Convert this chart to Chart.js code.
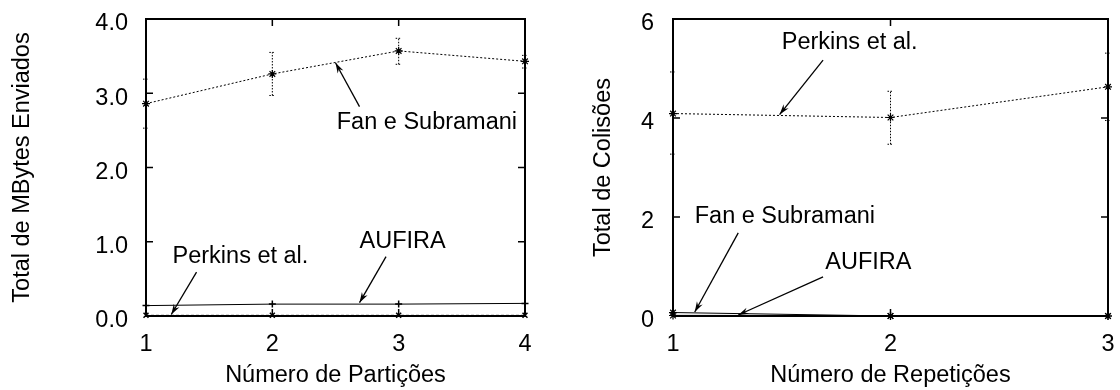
<!DOCTYPE html>
<html>
<head>
<meta charset="utf-8">
<script src="https://cdn.jsdelivr.net/npm/chart.js@4"></script>
<style>
  body { margin: 0; background: #fff; }
  #wrap { position: relative; width: 1120px; height: 390px; }
  canvas { position: absolute; top: 0; }
  #c1 { left: 0; }
  #c2 { left: 560px; }
</style>
</head>
<body>
<div id="wrap">
  <canvas id="c1" width="560" height="390"></canvas>
  <canvas id="c2" width="560" height="390"></canvas>
</div>
<script>
// ===== Gráfico 1: MBytes enviados x partições =====
const particoes = [1, 2, 3, 4];
const fanMB = [2.86, 3.26, 3.57, 3.43];
const fanMBMin = [2.53, 2.97, 3.39, 3.34];
const fanMBMax = [3.19, 3.55, 3.74, 3.51];
const aufiraMB = [0.14, 0.16, 0.16, 0.17];
const perkinsMB = [0.01, 0.01, 0.01, 0.01];
const yTicksMB = ['0.0', '1.0', '2.0', '3.0', '4.0'];

// ===== Gráfico 2: colisões x repetições =====
const repeticoes = [1, 2, 3];
const perkinsCol = [4.09, 4.01, 4.63];
const perkinsColMin = [3.27, 3.47, 3.95];
const perkinsColMax = [4.93, 4.54, 5.31];
const fanCol = [0.07, 0, 0];
const aufiraCol = [0.01, 0, 0];
const yTicksCol = ['0', '2', '4', '6'];

const FONTE = { family: '"Liberation Sans", Arial, sans-serif', size: 23.5 };

const pontos = (xs, ys) => xs.map((x, i) => ({ x: x, y: ys[i] }));

// moldura, marcas internas, barras de erro e rótulos com setas (estilo gnuplot)
const gnuplot = {
  id: 'gnuplot',
  afterDatasetsDraw(chart) {
    const { ctx, scales: { x, y } } = chart;
    ctx.save();
    ctx.strokeStyle = '#000';
    ctx.lineWidth = 1;
    ctx.setLineDash([1.5, 1.5]);
    chart.data.datasets.forEach(ds => {
      if (!ds.erro) return;
      ds.data.forEach((p, i) => {
        const px = x.getPixelForValue(p.x);
        const y0 = y.getPixelForValue(ds.erro.min[i]);
        const y1 = y.getPixelForValue(ds.erro.max[i]);
        ctx.beginPath();
        ctx.moveTo(px, y0); ctx.lineTo(px, y1);
        ctx.moveTo(px - 3, y0); ctx.lineTo(px + 3, y0);
        ctx.moveTo(px - 3, y1); ctx.lineTo(px + 3, y1);
        ctx.stroke();
      });
    });
    ctx.restore();
  },
  afterDraw(chart, args, opts) {
    const { ctx, chartArea: a, scales: { x, y } } = chart;
    ctx.save();
    ctx.strokeStyle = '#000';
    ctx.lineWidth = 1.5;
    ctx.beginPath();
    x.ticks.forEach(t => {
      const px = x.getPixelForValue(t.value);
      ctx.moveTo(px, a.bottom); ctx.lineTo(px, a.bottom - 7);
      ctx.moveTo(px, a.top); ctx.lineTo(px, a.top + 7);
    });
    y.ticks.forEach(t => {
      const py = y.getPixelForValue(t.value);
      ctx.moveTo(a.left, py); ctx.lineTo(a.left + 7, py);
      ctx.moveTo(a.right, py); ctx.lineTo(a.right - 7, py);
    });
    ctx.stroke();
    ctx.lineWidth = 2;
    ctx.strokeRect(a.left, a.top, a.width, a.height);

    // rótulos
    ctx.font = FONTE.size + 'px ' + FONTE.family;
    ctx.fillStyle = '#000';
    ctx.textAlign = 'left';
    ctx.textBaseline = 'middle';
    ctx.lineWidth = 1.3;
    (opts.rotulos || []).forEach(r => {
      ctx.fillText(r.texto, x.getPixelForValue(r.x), y.getPixelForValue(r.y));
      const x0 = x.getPixelForValue(r.de[0]), y0 = y.getPixelForValue(r.de[1]);
      const x1 = x.getPixelForValue(r.para[0]), y1 = y.getPixelForValue(r.para[1]);
      const ang = Math.atan2(y1 - y0, x1 - x0);
      ctx.beginPath();
      ctx.moveTo(x0, y0); ctx.lineTo(x1, y1);
      ctx.stroke();
      ctx.beginPath();
      ctx.moveTo(x1, y1);
      ctx.lineTo(x1 - 11 * Math.cos(ang - 0.3), y1 - 11 * Math.sin(ang - 0.3));
      ctx.lineTo(x1 - 7 * Math.cos(ang), y1 - 7 * Math.sin(ang));
      ctx.lineTo(x1 - 11 * Math.cos(ang + 0.3), y1 - 11 * Math.sin(ang + 0.3));
      ctx.closePath();
      ctx.fill();
    });
    ctx.restore();
  }
};

// sem folga extra das escalas: a área do gráfico fica só com o padding do layout
function semFolga(s) {
  s.paddingTop = 0; s.paddingBottom = 0; s.paddingLeft = 0; s.paddingRight = 0;
}

function opcoes(cfg) {
  return {
    responsive: false,
    animation: false,
    layout: { padding: { top: 19, right: cfg.padDir, left: 0, bottom: 0 } },
    plugins: {
      legend: { display: false },
      tooltip: { enabled: false },
      gnuplot: { rotulos: cfg.rotulos }
    },
    scales: {
      x: {
        type: 'linear',
        min: cfg.xMin, max: cfg.xMax,
        grid: { display: false },
        border: { display: false },
        ticks: { stepSize: 1, font: FONTE, color: '#000', padding: 6, maxRotation: 0 },
        title: { display: true, text: cfg.xTitulo, font: FONTE, color: '#000', padding: { top: 0, bottom: 0 } },
        afterFit(s) { s.height = 74; semFolga(s); }
      },
      y: {
        type: 'linear',
        min: 0, max: cfg.yMax,
        grid: { display: false },
        border: { display: false },
        ticks: {
          stepSize: cfg.yPasso, font: FONTE, color: '#000', padding: cfg.padTick, labelOffset: 5,
          callback: (v, i) => cfg.yRotulos[i]
        },
        title: { display: true, text: cfg.yTitulo, font: FONTE, color: '#000', padding: { top: cfg.padTitulo, bottom: 0 } },
        afterFit(s) { s.width = cfg.larguraY; semFolga(s); }
      }
    }
  };
}

new Chart(document.getElementById('c1'), {
  type: 'line',
  data: {
    datasets: [
      {
        label: 'Fan e Subramani',
        data: pontos(particoes, fanMB),
        erro: { min: fanMBMin, max: fanMBMax },
        borderColor: '#000', borderWidth: 1, borderDash: [2, 2],
        pointStyle: 'star', pointRadius: 4, pointBorderColor: '#000', pointBorderWidth: 1.2,
        clip: false
      },
      {
        label: 'AUFIRA',
        data: pontos(particoes, aufiraMB),
        borderColor: '#000', borderWidth: 1,
        pointStyle: 'cross', pointRadius: 3.5, pointBorderColor: '#000', pointBorderWidth: 1.5,
        clip: false
      },
      {
        label: 'Perkins et al.',
        data: pontos(particoes, perkinsMB),
        borderColor: '#666', borderWidth: 1, borderDash: [3, 2],
        pointStyle: 'crossRot', pointRadius: 3.5, pointBorderColor: '#000', pointBorderWidth: 1.5,
        clip: false
      }
    ]
  },
  options: opcoes({
    xMin: 1, xMax: 4, yMax: 4, yPasso: 1, yRotulos: yTicksMB,
    xTitulo: 'Número de Partições', yTitulo: 'Total de MBytes Enviados',
    larguraY: 146, padDir: 35, padTitulo: 8, padTick: 10,
    rotulos: [
      { texto: 'Fan e Subramani', x: 2.51, y: 2.60, de: [2.69, 2.82], para: [2.50, 3.41] },
      { texto: 'AUFIRA', x: 2.69, y: 1.0, de: [2.90, 0.80], para: [2.69, 0.18] },
      { texto: 'Perkins et al.', x: 1.21, y: 0.80, de: [1.40, 0.59], para: [1.20, 0.02] }
    ]
  }),
  plugins: [gnuplot]
});

new Chart(document.getElementById('c2'), {
  type: 'line',
  data: {
    datasets: [
      {
        label: 'Perkins et al.',
        data: pontos(repeticoes, perkinsCol),
        erro: { min: perkinsColMin, max: perkinsColMax },
        borderColor: '#000', borderWidth: 1, borderDash: [2, 2],
        pointStyle: 'star', pointRadius: 4, pointBorderColor: '#000', pointBorderWidth: 1.2,
        clip: false
      },
      {
        label: 'Fan e Subramani',
        data: pontos(repeticoes, fanCol),
        borderColor: '#000', borderWidth: 1,
        pointStyle: 'star', pointRadius: 4, pointBorderColor: '#000', pointBorderWidth: 1.2,
        clip: false
      },
      {
        label: 'AUFIRA',
        data: pontos(repeticoes, aufiraCol),
        borderColor: '#888', borderWidth: 1.5,
        pointStyle: 'star', pointRadius: 4, pointBorderColor: '#000', pointBorderWidth: 1.2,
        clip: false
      }
    ]
  },
  options: opcoes({
    xMin: 1, xMax: 3, yMax: 6, yPasso: 2, yRotulos: yTicksCol,
    xTitulo: 'Número de Repetições', yTitulo: 'Total de Colisões',
    larguraY: 113, padDir: 12, padTitulo: 29, padTick: 11,
    rotulos: [
      { texto: 'Perkins et al.', x: 1.50, y: 5.52, de: [1.69, 5.17], para: [1.49, 4.07] },
      { texto: 'Fan e Subramani', x: 1.10, y: 2.0, de: [1.30, 1.68], para: [1.10, 0.08] },
      { texto: 'AUFIRA', x: 1.70, y: 1.09, de: [1.69, 0.79], para: [1.30, 0.02] }
    ]
  }),
  plugins: [gnuplot]
});
</script>
</body>
</html>
